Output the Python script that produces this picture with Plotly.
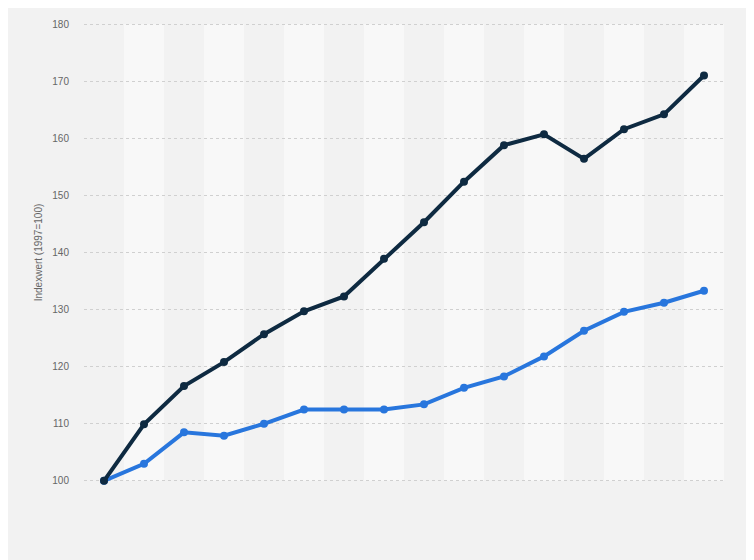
import plotly.graph_objects as go

years = list(range(1997, 2013))
series_dark = [100.0, 109.9, 116.6, 120.8, 125.7, 129.7, 132.3, 138.9, 145.3, 152.4,
               158.8, 160.7, 156.4, 161.6, 164.2, 171.0]
series_blue = [100.0, 103.0, 108.5, 107.9, 110.0, 112.5, 112.5, 112.5, 113.4, 116.3,
               118.3, 121.8, 126.3, 129.6, 131.2, 133.3]
y_min, y_max = 100, 180
y_ticks = [100, 110, 120, 130, 140, 150, 160, 170, 180]
y_title = "Indexwert (1997=100)"

fig = go.Figure()

shapes = []
# alternating column bands, placed on the x axis from the category list
for i, yr in enumerate(years):
    shapes.append(dict(
        type="rect", xref="x", yref="y",
        x0=yr - 0.5, x1=yr + 0.5, y0=y_min, y1=y_max,
        fillcolor="#f2f2f2" if i % 2 == 0 else "#f8f8f8",
        line=dict(width=0), layer="below",
    ))

fig.add_trace(go.Scatter(
    x=years, y=series_blue, mode="lines+markers",
    line=dict(color="#2876dd", width=4),
    marker=dict(color="#2876dd", size=8),
    cliponaxis=False, showlegend=False,
))
fig.add_trace(go.Scatter(
    x=years, y=series_dark, mode="lines+markers",
    line=dict(color="#0e2a41", width=4),
    marker=dict(color="#0e2a41", size=8),
    cliponaxis=False, showlegend=False,
))

fig.update_layout(
    width=754, height=560,
    margin=dict(l=76, r=38, t=11, b=86),
    paper_bgcolor="#f2f2f2", plot_bgcolor="#f2f2f2",
    font=dict(family="Liberation Sans, Arial, sans-serif", color="#666666", size=10),
    shapes=shapes,
    xaxis=dict(range=[years[0] - 0.5, years[-1] + 0.5], showticklabels=False,
               showgrid=False, zeroline=False, showline=False, ticks=""),
    yaxis=dict(range=[y_min - 0.2, y_max + 0.2], tickvals=y_ticks, showgrid=True,
               gridcolor="#d0d0d0", griddash="dot", gridwidth=1,
               zeroline=False, showline=False, ticks="",
               ticklabelstandoff=14,
               tickfont=dict(size=10, color="#666666"),
               title=dict(text=y_title, font=dict(size=10, color="#666666"), standoff=7)),
)

fig.write_html("out.html")
